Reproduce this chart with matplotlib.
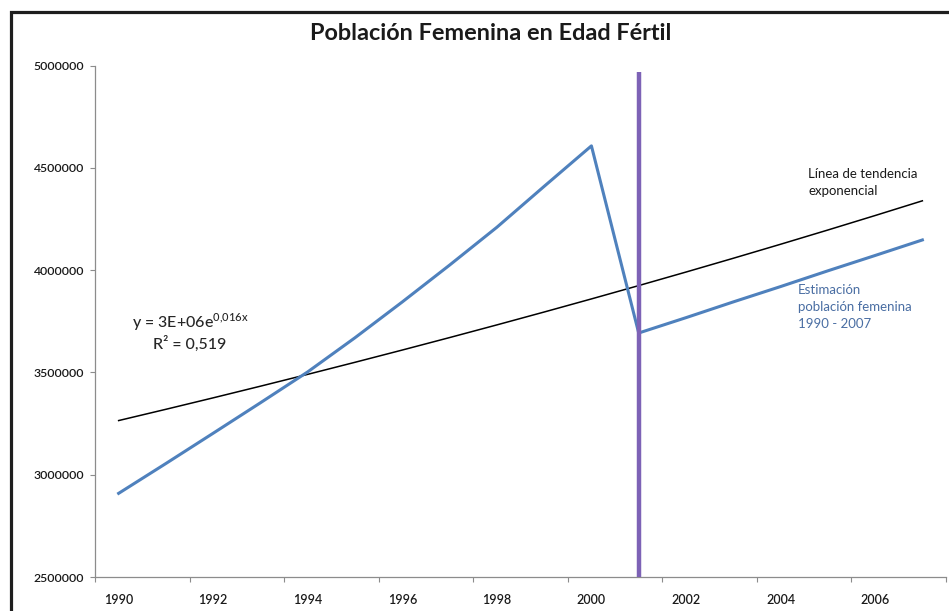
import numpy as np
import matplotlib
matplotlib.use("Agg")
from matplotlib import pyplot as plt
from matplotlib.lines import Line2D
from matplotlib.ticker import FuncFormatter, MultipleLocator, FixedLocator

plt.rcParams['font.family'] = ['Lato', 'DejaVu Sans']

# data
years = np.arange(1990, 2008)
poblacion = [2909000, 3055000, 3203000, 3352000, 3503000, 3670000, 3845000,
             4025000, 4210000, 4410000, 4608000, 3693000, 3768000, 3845000,
             3920000, 3997000, 4072000, 4148000]
marker_year = 2001
marker_top = 4970000
year_labels = [str(y) for y in range(1990, 2007, 2)]

titulo = 'Población Femenina en Edad Fértil'
ecuacion = r'y = 3E+06e$^{\mathregular{0{,}016x}}$'
r2 = 'R² = 0,519'
txt_tendencia = 'Línea de tendencia\nexponencial'
txt_serie = 'Estimación\npoblación femenina\n1990 - 2007'

# exponential trend like excel does it: fit on ln(y) against category index 1..n
idx = np.arange(1, len(years) + 1)
b, ln_a = np.polyfit(idx, np.log(poblacion), 1)
tendencia = np.exp(ln_a) * np.exp(b * idx)

W, H = 949, 611
fig = plt.figure(figsize=(W / 100, H / 100), dpi=100)
ax = fig.add_axes([95 / W, (H - 577) / H, 851 / W, (577 - 65.7) / H])

ax.plot(years, tendencia, color='black', lw=1.1, zorder=2)
ax.plot(years, poblacion, color='#4F81BD', lw=2.2, zorder=3)
ax.plot([marker_year, marker_year], [2500000, marker_top], color='#7d62b6',
        lw=3.2, zorder=4, solid_capstyle='butt', clip_on=False)

ax.set_xlim(1989.5, 2007.5)
ax.set_ylim(2500000, 5000000)

ax.xaxis.set_major_locator(FixedLocator(list(range(1990, 2007, 2))))
ax.set_xticklabels(year_labels)
ax.xaxis.set_minor_locator(FixedLocator(list(np.arange(1989.5, 2008, 2))))
ax.tick_params(axis='x', which='major', length=0, pad=12.5, labelsize=9,
               labelcolor='#1a1a1a')
ax.tick_params(axis='x', which='minor', length=3.5, width=0.8, color='#8c8c8c',
               direction='out')

ax.yaxis.set_major_locator(MultipleLocator(500000))
ax.yaxis.set_major_formatter(FuncFormatter(lambda v, p: f'{int(v)}'))
ax.tick_params(axis='y', length=3.8, width=0.8, color='#8c8c8c', pad=4,
               labelsize=8.8, labelcolor='#1a1a1a')
for lbl in ax.get_xticklabels() + ax.get_yticklabels():
    lbl.set_fontweight('semibold')

for s in ['top', 'right']:
    ax.spines[s].set_visible(False)
for s in ['left', 'bottom']:
    ax.spines[s].set_color('#8c8c8c')
    ax.spines[s].set_linewidth(0.9)

ax.text(1991.51, 3745000, ecuacion, ha='center', va='center', fontsize=11.5,
        color='#262626', fontweight='medium')
ax.text(1991.51, 3640000, r2, ha='center', va='center', fontsize=11.5,
        color='#262626', fontweight='medium')
ax.text(2004.59, 4430000, txt_tendencia, ha='left', va='center', fontsize=9.5,
        color='#1a1a1a', linespacing=1.55)
ax.text(2004.37, 3820000, txt_serie, ha='left', va='center', fontsize=9.5,
        color='#4a6ea3', linespacing=1.5)

fig.text(491 / W, 1 - 34 / H, titulo, ha='center', va='center', fontsize=16.9,
         fontweight='bold', color='#1a1a1a')

# outer frame (only left and top edges are in the picture)
fig.add_artist(Line2D([11.3 / W, 11.3 / W, 1.0], [0.0, 1 - 11.8 / H, 1 - 11.8 / H],
                      transform=fig.transFigure, color='#1e1e1e', lw=2.3,
                      solid_joinstyle='miter'))

fig.savefig('out.png', dpi=100)
